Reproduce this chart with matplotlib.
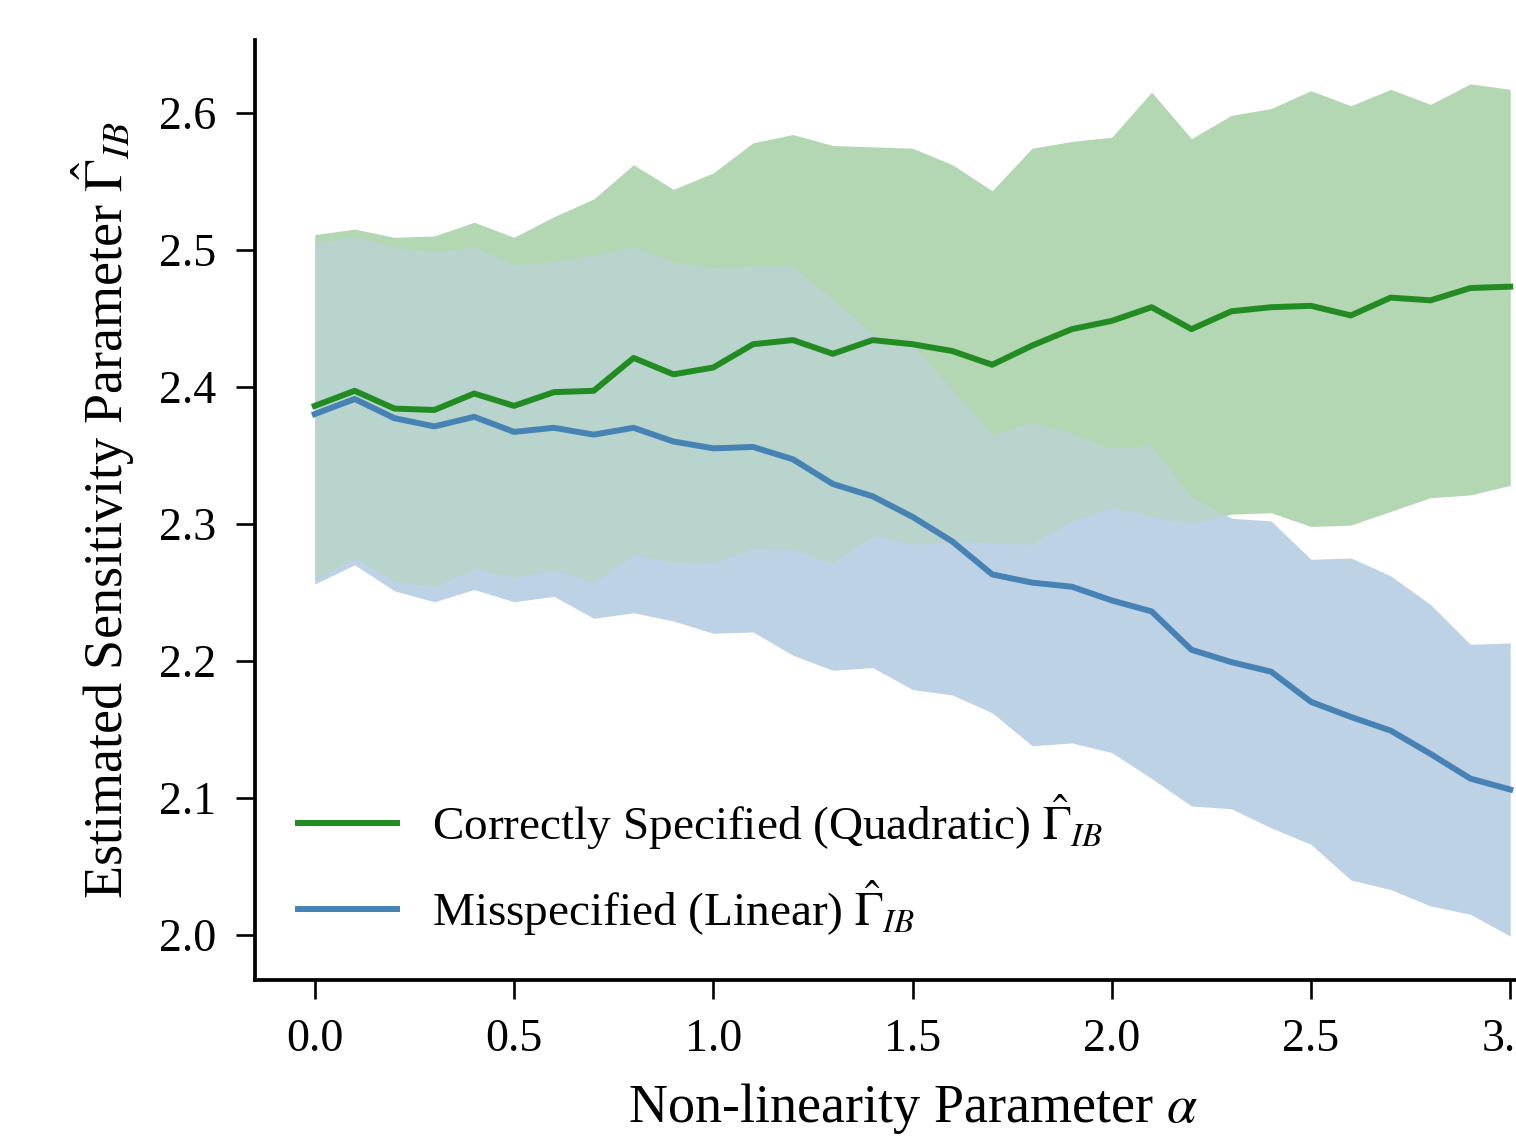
import numpy as np
import matplotlib
matplotlib.use('Agg')
from matplotlib import pyplot as plt

plt.rcParams['font.family'] = 'serif'
plt.rcParams['font.serif'] = ['Liberation Serif', 'DejaVu Serif']
plt.rcParams['mathtext.fontset'] = 'stix'

alphas = np.round(np.arange(0, 3.01, 0.1), 1)

# correctly specified (quadratic) estimator: mean and band
quad_mean = [2.386, 2.397, 2.384, 2.383, 2.395, 2.386, 2.396, 2.397, 2.421, 2.409, 2.414,
             2.431, 2.434, 2.424, 2.434, 2.431, 2.426, 2.416, 2.430, 2.442, 2.448,
             2.458, 2.442, 2.455, 2.458, 2.459, 2.452, 2.465, 2.463, 2.472, 2.473]
quad_upper = [2.511, 2.515, 2.509, 2.510, 2.520, 2.509, 2.524, 2.537, 2.562, 2.544, 2.556,
              2.578, 2.584, 2.576, 2.575, 2.574, 2.562, 2.543, 2.574, 2.579, 2.582,
              2.615, 2.581, 2.598, 2.603, 2.616, 2.605, 2.617, 2.606, 2.621, 2.617]
quad_lower = [2.259, 2.275, 2.258, 2.254, 2.267, 2.261, 2.266, 2.257, 2.277, 2.272, 2.271,
              2.282, 2.281, 2.271, 2.291, 2.285, 2.287, 2.286, 2.285, 2.302, 2.312,
              2.305, 2.300, 2.307, 2.308, 2.298, 2.299, 2.309, 2.319, 2.321, 2.328]

# misspecified (linear) estimator
lin_mean = [2.380, 2.391, 2.377, 2.371, 2.378, 2.367, 2.370, 2.365, 2.370, 2.360, 2.355,
            2.356, 2.347, 2.329, 2.320, 2.305, 2.287, 2.263, 2.257, 2.254, 2.244,
            2.236, 2.208, 2.199, 2.192, 2.170, 2.159, 2.149, 2.132, 2.114, 2.106]
lin_upper = [2.505, 2.509, 2.502, 2.498, 2.502, 2.489, 2.491, 2.496, 2.502, 2.491, 2.487,
             2.488, 2.488, 2.464, 2.438, 2.431, 2.398, 2.365, 2.374, 2.366, 2.355,
             2.357, 2.320, 2.304, 2.302, 2.274, 2.275, 2.262, 2.241, 2.212, 2.213]
lin_lower = [2.256, 2.270, 2.251, 2.243, 2.252, 2.243, 2.247, 2.231, 2.235, 2.229, 2.220,
             2.221, 2.204, 2.193, 2.195, 2.179, 2.175, 2.162, 2.138, 2.140, 2.133,
             2.114, 2.094, 2.092, 2.078, 2.066, 2.040, 2.033, 2.021, 2.015, 1.999]

fig = plt.figure(figsize=(15.16, 11.37), dpi=100)
ax = fig.add_axes([255 / 1516, 157 / 1137, 1315 / 1516, 940 / 1137])

ax.fill_between(alphas, quad_lower, quad_upper, color='#b3d6b3', lw=0)
ax.fill_between(alphas, lin_lower, lin_upper, color='#bed2e6', lw=0)
# where both bands overlap
ov_lo = np.maximum(quad_lower, lin_lower)
ov_hi = np.minimum(quad_upper, lin_upper)
ax.fill_between(alphas, ov_lo, ov_hi, where=ov_hi > ov_lo, interpolate=True,
                color='#b8d4cc', lw=0)

ax.plot(alphas, quad_mean, color='#228B22', lw=4.3,
        label=r'Correctly Specified (Quadratic) $\hat{\Gamma}_{IB}$')
ax.plot(alphas, lin_mean, color='#4682B4', lw=4.3,
        label=r'Misspecified (Linear) $\hat{\Gamma}_{IB}$')

ax.set_xlim(-0.15, 3.15)
ax.set_ylim(1.967, 2.653)
ax.set_xticks(np.arange(0, 3.01, 0.5))
ax.set_yticks(np.arange(2.0, 2.61, 0.1))
ax.xaxis.set_major_formatter(matplotlib.ticker.FormatStrFormatter('%.1f'))
ax.yaxis.set_major_formatter(matplotlib.ticker.FormatStrFormatter('%.1f'))

for side in ['top', 'right']:
    ax.spines[side].set_visible(False)
for side in ['left', 'bottom']:
    ax.spines[side].set_linewidth(2.7)

ax.tick_params(axis='both', direction='out', length=14, width=1.9, pad=14, labelsize=33)
ax.set_xlabel(r'Non-linearity Parameter $\alpha$', fontsize=39, labelpad=14)
ax.set_ylabel(r'Estimated Sensitivity Parameter $\hat{\Gamma}_{IB}$', fontsize=39, labelpad=16)

ax.legend(loc='lower left', bbox_to_anchor=(0.0, 0.0), frameon=False, fontsize=34,
          handlelength=2.1, handletextpad=0.75, labelspacing=0.55)

plt.savefig('out.png', dpi=100)
